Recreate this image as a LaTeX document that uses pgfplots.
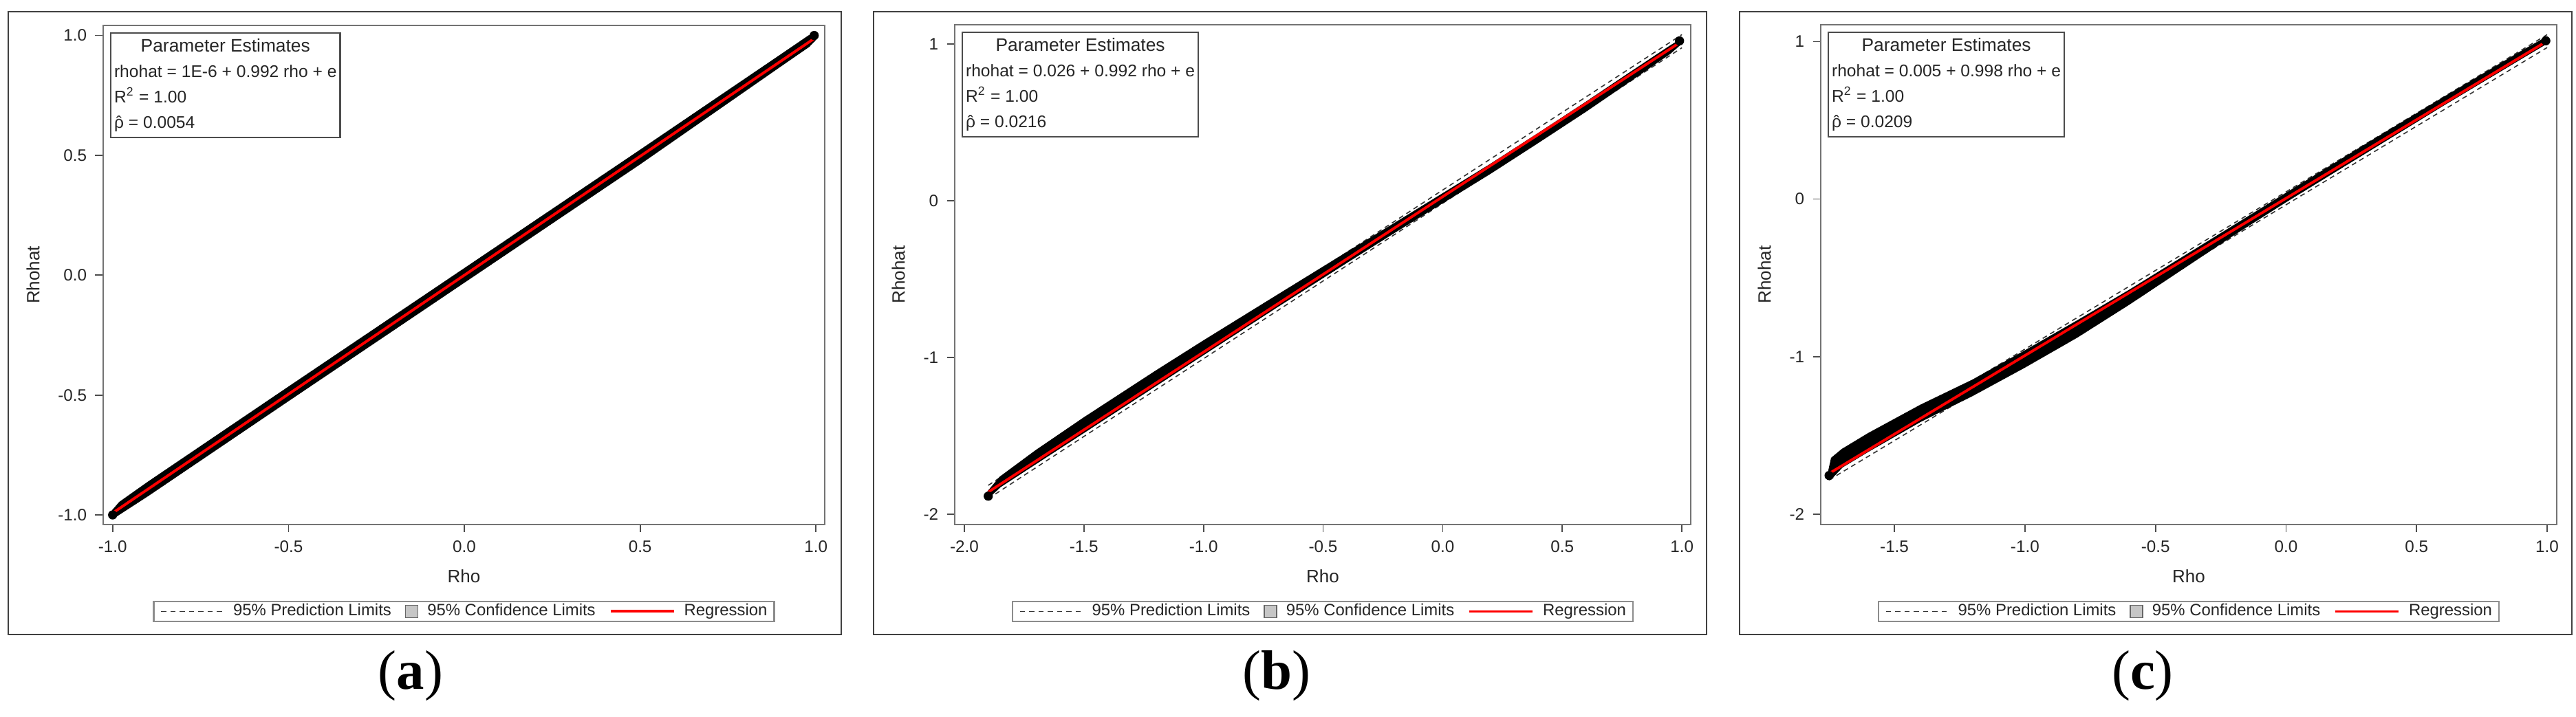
\documentclass[border=0pt]{standalone}
\usepackage{fontspec}
\setmainfont{Liberation Sans}
\newfontfamily\capfont{Liberation Serif}
\usepackage{pgfplots}
\pgfplotsset{compat=1.18}

\pgfplotsset{
  sasaxis/.style={
    scale only axis, anchor=south west,
    axis line style={black!55, line width=0.6pt},
    tick align=outside, major tick length=1.15mm,
    tick style={black!70, line width=0.5pt},
    tick pos=left,
    tick label style={font=\fontsize{6.9}{8}\selectfont, text=black!85},
    label style={font=\fontsize{7.4}{9}\selectfont, text=black!85},
    xlabel={Rho}, ylabel={Rhohat},
    xlabel style={at={(axis description cs:0.5,-0.103)}, anchor=center},
    legend columns=3,
    legend cell align=left,
    legend style={at={(axis description cs:0.5,-0.174)}, anchor=center,
      draw=black!45, line width=0.6pt, inner xsep=1mm, inner ysep=0.3mm,
      font=\fontsize{6.8}{7.5}\selectfont, text=black!85,
      nodes={inner sep=0pt},
      /tikz/every odd column/.append style={column sep=1.3mm},
      /tikz/every even column/.append style={column sep=2mm}},
  },
  band/.style={fill=black, draw=black, line width=0.6pt, line join=round, forget plot},
  pred/.style={black!80, line width=0.45pt, dash pattern=on 0.7mm off 0.55mm, forget plot},
  reg/.style={red, line width=1.1pt, forget plot},
  ends/.style={only marks, mark=*, mark size=1.7pt, black, forget plot},
  predleg/.style={black!80, line width=0.45pt, dash pattern=on 0.75mm off 0.6mm,
    legend image code/.code={\draw[##1] (0mm,0mm) -- (9.1mm,0mm);}},
  confleg/.style={draw=black!60, fill=gray!45, line width=0.4pt,
    legend image code/.code={\draw[##1] (0mm,-0.9mm) rectangle (1.8mm,0.9mm);}},
  regleg/.style={red, line width=1.1pt,
    legend image code/.code={\draw[##1] (0mm,0mm) -- (9.2mm,0mm);}},
}

\newcommand{\sasleg}{%
  \addlegendimage{predleg}
  \addlegendentry{95\% Prediction Limits}
  \addlegendimage{confleg}
  \addlegendentry{95\% Confidence Limits}
  \addlegendimage{regleg}
  \addlegendentry{Regression}
}

\newcommand{\pestbox}[2]{%
  \node[draw=black!70, line width=0.6pt, fill=white, anchor=north west,
        inner xsep=0.5mm, inner ysep=0.2mm, xshift=1mm, yshift=-1mm,
        font=\fontsize{7}{10.5}\selectfont, text=black!85]
    at (rel axis cs:0,1) {%
    \begin{tabular}{@{}l@{}}
    \multicolumn{1}{@{}c@{}}{\fontsize{7.5}{10.5}\selectfont Parameter Estimates}\\
    rhohat = #1 rho + e\\
    R\textsuperscript{2} = 1.00\\
    \smash{\accent"02C6 ρ} = #2
    \end{tabular}};
}

\begin{document}
\begin{tikzpicture}
\useasboundingbox (0,0) rectangle (374.5mm,104.3mm);

% panel frames
\draw[black!75, line width=0.7pt] (1.2mm,12mm) rectangle (122.3mm,102.6mm);
\draw[black!75, line width=0.7pt] (127.0mm,12mm) rectangle (248.1mm,102.6mm);
\draw[black!75, line width=0.7pt] (252.9mm,12mm) rectangle (373.9mm,102.6mm);

% ---------------- panel (a)
\begin{axis}[sasaxis, at={(15mm,28mm)}, width=104.9mm, height=72.6mm,
  xmin=-1.027, xmax=1.025, ymin=-1.040, ymax=1.042,
  xtick={-1,-0.5,0,0.5,1}, xticklabels={-1.0,-0.5,0.0,0.5,1.0},
  ytick={-1,-0.5,0,0.5,1}, yticklabels={-1.0,-0.5,0.0,0.5,1.0},
  ylabel style={at={(axis description cs:-0.0972,0.5)}, anchor=center}]
\addplot[pred] coordinates {(-1,-0.981) (1,1.003)};
\addplot[pred] coordinates {(-1,-1.003) (1,0.981)};
\addplot[band] coordinates {
 (-1.0,-0.982) (-0.98,-0.948) (-0.9,-0.865) (-0.5,-0.468) (0,0.026) (0.5,0.520) (0.9,0.918) (0.98,0.998) (1.0,1.012)
 (1.0,0.986) (0.98,0.955) (0.9,0.874) (0.5,0.466) (0,-0.028) (-0.5,-0.522) (-0.9,-0.919) (-0.98,-0.995) (-1.0,-1.014)
} -- cycle;
\addplot[ends] coordinates {(-1,-1.0) (0.995,1.0)};
\addplot[reg] coordinates {(-1,-0.992) (1,0.992)};
\sasleg
\pestbox{1E-6 + 0.992}{0.0054}
\end{axis}

% ---------------- panel (b)
\begin{axis}[sasaxis, at={(138.8mm,28mm)}, width=107.0mm, height=72.7mm,
  xmin=-2.040, xmax=1.037, ymin=-2.066, ymax=1.123,
  xtick={-2,-1.5,-1,-0.5,0,0.5,1}, xticklabels={-2.0,-1.5,-1.0,-0.5,0.0,0.5,1.0},
  ytick={-2,-1,0,1}, yticklabels={-2,-1,0,1},
  ylabel style={at={(axis description cs:-0.0766,0.5)}, anchor=center}]
\addplot[pred] coordinates {(-1.9,-1.816) (1,1.060)};
\addplot[pred] coordinates {(-1.9,-1.901) (1,0.976)};
\addplot[band] coordinates {
 (-1.90,-1.855) (-1.85,-1.764) (-1.7,-1.595) (-1.5,-1.387) (-1.2,-1.089) (-1.0,-0.896) (-0.7,-0.613) (-0.4,-0.331) (-0.2,-0.145) (0.0,0.043) (0.2,0.231) (0.4,0.428) (0.6,0.628) (0.8,0.833) (0.95,0.985) (1.0,1.032)
 (1.0,1.008) (0.95,0.941) (0.8,0.783) (0.6,0.574) (0.4,0.374) (0.2,0.177) (0.0,-0.011) (-0.2,-0.199) (-0.4,-0.391) (-0.7,-0.683) (-1.0,-0.980) (-1.2,-1.179) (-1.5,-1.477) (-1.7,-1.675) (-1.85,-1.824) (-1.90,-1.895)
} -- cycle;
\addplot[ends] coordinates {(-1.9,-1.885) (0.99,1.02)};
\addplot[reg] coordinates {(-1.9,-1.859) (1,1.018)};
\sasleg
\pestbox{0.026 + 0.992}{0.0216}
\end{axis}

% ---------------- panel (c)
\begin{axis}[sasaxis, at={(264.7mm,28mm)}, width=107.0mm, height=72.7mm,
  xmin=-1.782, xmax=1.037, ymin=-2.066, ymax=1.107,
  xtick={-1.5,-1,-0.5,0,0.5,1}, xticklabels={-1.5,-1.0,-0.5,0.0,0.5,1.0},
  ytick={-2,-1,0,1}, yticklabels={-2,-1,0,1},
  ylabel style={at={(axis description cs:-0.0766,0.5)}, anchor=center}]
\addplot[pred] coordinates {(-1.75,-1.701) (1,1.044)};
\addplot[pred] coordinates {(-1.75,-1.783) (1,0.962)};
\addplot[band] coordinates {
 (-1.75,-1.72) (-1.74,-1.645) (-1.70,-1.59) (-1.6,-1.49) (-1.4,-1.31) (-1.2,-1.15) (-1.0,-0.965) (-0.8,-0.775) (-0.6,-0.58) (-0.4,-0.375) (-0.2,-0.17) (0,0.035) (0.3,0.34) (0.6,0.64) (0.9,0.935) (0.98,1.01) (1.0,1.018)
 (1.0,0.992) (0.98,0.972) (0.9,0.893) (0.6,0.595) (0.3,0.29) (0,-0.015) (-0.2,-0.225) (-0.4,-0.445) (-0.6,-0.665) (-0.8,-0.875) (-1.0,-1.065) (-1.2,-1.245) (-1.4,-1.41) (-1.6,-1.60) (-1.70,-1.70) (-1.74,-1.77) (-1.75,-1.78)
} -- cycle;
\addplot[ends] coordinates {(-1.75,-1.755) (0.995,1.005)};
\addplot[reg] coordinates {(-1.75,-1.742) (1,1.003)};
\sasleg
\pestbox{0.005 + 0.998}{0.0209}
\end{axis}

% captions
\node[font=\fontsize{23}{26}\selectfont\capfont] at (59.7mm,6.0mm) {(\textbf{a})};
\node[font=\fontsize{23}{26}\selectfont\capfont] at (185.6mm,6.0mm) {(\textbf{b})};
\node[font=\fontsize{23}{26}\selectfont\capfont] at (311.5mm,6.0mm) {(\textbf{c})};
\end{tikzpicture}
\end{document}
